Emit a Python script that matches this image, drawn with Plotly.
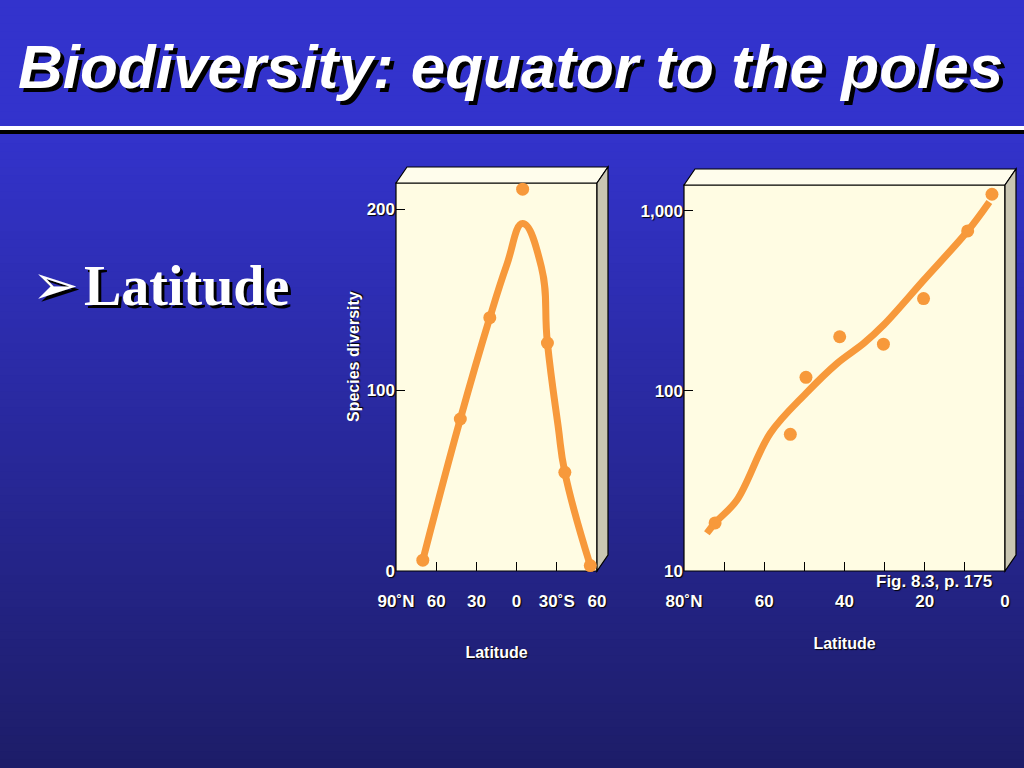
import plotly.graph_objects as go

# ---------------- data ----------------
# Left chart: x position along latitude axis (0 = 90N, 90 = equator, 150 = 60S)
left_tick_pos = [0, 30, 60, 90, 120, 150]
left_tick_text = ["90˚N", "60", "30", "0", "30˚S", "60"]
left_pts_x = [20, 48, 70, 94.5, 113, 126, 145]
left_pts_y = [6, 84, 140, 211, 126, 54.5, 3]
left_curve_x = [20, 48, 70, 82.6, 94.5, 108.5, 113, 121, 126, 145]
left_curve_y = [6, 84, 140, 169, 192, 168, 126, 80, 54.5, 3]
left_y_ticks = [0, 100, 200]

# Right chart: latitude 80N -> 0, log species diversity
right_tick_pos = [80, 70, 60, 50, 40, 30, 20, 10, 0]
right_tick_text = ["80˚N", "", "60", "", "40", "", "20", "", "0"]
right_pts_x = [72.25, 53.5, 49.6, 41.2, 30.3, 20.3, 9.3, 3.25]
right_pts_y = [18.5, 57.4, 119, 200, 182, 326, 774, 1238]
right_curve_x = [74.3, 72.25, 66.8, 58.5, 49.6, 41.8, 35.2, 30.2, 20.2, 9.3, 3.9]
right_curve_y = [16.2, 18.5, 24.8, 58.2, 97, 142.6, 184, 233, 414, 774, 1122]
right_y_ticks = [10, 100, 1000]
right_y_text = ["10", "100", "1,000"]

# ---------------- style ----------------
W, H = 1024, 768
ORANGE = "#F7993B"
CREAM = "#FFFCE3"
TOP = "#FFFDEC"
SIDE = "#C9C6B2"
FONT = "Liberation Sans"
SH = "1px 1px 1px #000000"


def X(px):
    return px / W


def Y(py):
    return 1 - py / H


L = dict(x0=396, x1=597, y0=183, y1=571)
R = dict(x0=684, x1=1005, y0=185, y1=571)
DX, DY = 11, 16

shapes = []
# background gradient
n = 96
top_c = (51, 51, 204)
bot_c = (29, 29, 104)
for i in range(n):
    y0 = i * H / n
    y1 = (i + 1) * H / n
    yc = (y0 + y1) / 2
    t = 0 if yc < 130 else (yc - 130) / (H - 130)
    c = tuple(round(top_c[k] + (bot_c[k] - top_c[k]) * t) for k in range(3))
    shapes.append(dict(type="rect", xref="paper", yref="paper", x0=0, x1=1,
                       y0=max(0, Y(y1) - 0.001), y1=min(1, Y(y0) + 0.001), layer="below",
                       fillcolor="rgb(%d,%d,%d)" % c, line=dict(width=0)))

# horizontal rules under title
shapes.append(dict(type="rect", xref="paper", yref="paper", x0=0, x1=1,
                   y0=Y(130), y1=Y(126), fillcolor="white", line=dict(width=0), layer="below"))
shapes.append(dict(type="rect", xref="paper", yref="paper", x0=0, x1=1,
                   y0=Y(134), y1=Y(130), fillcolor="black", line=dict(width=0), layer="below"))


def box(b):
    x0, x1, y0, y1 = b["x0"], b["x1"], b["y0"], b["y1"]
    ln = dict(color="black", width=1.2)
    # front face
    shapes.append(dict(type="rect", xref="paper", yref="paper", x0=X(x0), x1=X(x1),
                       y0=Y(y1), y1=Y(y0), fillcolor=CREAM, line=ln, layer="below"))
    # top face
    p = "M %f %f L %f %f L %f %f L %f %f Z" % (X(x0), Y(y0), X(x0 + DX), Y(y0 - DY),
                                               X(x1 + DX), Y(y0 - DY), X(x1), Y(y0))
    shapes.append(dict(type="path", xref="paper", yref="paper", path=p,
                       fillcolor=TOP, line=ln, layer="below"))
    # side face
    p = "M %f %f L %f %f L %f %f L %f %f Z" % (X(x1), Y(y0), X(x1 + DX), Y(y0 - DY),
                                               X(x1 + DX), Y(y1 - DY), X(x1), Y(y1))
    shapes.append(dict(type="path", xref="paper", yref="paper", path=p,
                       fillcolor=SIDE, line=ln, layer="below"))


box(L)
box(R)

fig = go.Figure()
fig.add_trace(go.Scatter(x=left_curve_x, y=left_curve_y, mode="lines",
                         line=dict(color=ORANGE, width=7, shape="spline", smoothing=1.3),
                         xaxis="x", yaxis="y", showlegend=False, hoverinfo="skip"))
fig.add_trace(go.Scatter(x=left_pts_x, y=left_pts_y, mode="markers",
                         marker=dict(color=ORANGE, size=13),
                         xaxis="x", yaxis="y", showlegend=False, cliponaxis=False))
fig.add_trace(go.Scatter(x=right_curve_x, y=right_curve_y, mode="lines",
                         line=dict(color=ORANGE, width=7, shape="spline", smoothing=1.0),
                         xaxis="x2", yaxis="y2", showlegend=False, hoverinfo="skip"))
fig.add_trace(go.Scatter(x=right_pts_x, y=right_pts_y, mode="markers",
                         marker=dict(color=ORANGE, size=13),
                         xaxis="x2", yaxis="y2", showlegend=False, cliponaxis=False))

tickfont = dict(family=FONT, size=17, color="white", weight=700, shadow=SH)
titlefont = dict(family=FONT, size=16, color="white", weight=700, shadow=SH)
axcommon = dict(showgrid=False, zeroline=False, showline=False, ticks="inside",
                ticklen=9, tickcolor="black", tickwidth=1.2, tickfont=tickfont,
                automargin=False)

fig.update_layout(
    width=W, height=H, margin=dict(l=0, r=0, t=0, b=0, pad=0, autoexpand=False),
    paper_bgcolor="rgb(40,40,150)", plot_bgcolor="rgba(0,0,0,0)",
    shapes=shapes,
    xaxis=dict(domain=[X(L["x0"]), X(L["x1"])], range=[0, 150], anchor="y",
               tickmode="array", tickvals=left_tick_pos, ticktext=left_tick_text,
               ticklabelstandoff=18,
               title=dict(text="Latitude", font=titlefont, standoff=36), **axcommon),
    yaxis=dict(domain=[Y(L["y1"]), Y(L["y0"])], range=[0, 214.4], anchor="x",
               tickmode="array", tickvals=left_y_ticks, **axcommon),
    xaxis2=dict(domain=[X(R["x0"]), X(R["x1"])], range=[80, 0], anchor="y2",
                tickmode="array", tickvals=right_tick_pos, ticktext=right_tick_text,
                ticklabelstandoff=18,
                title=dict(text="Latitude", font=titlefont, standoff=27), **axcommon),
    yaxis2=dict(domain=[Y(R["y1"]), Y(R["y0"])], type="log", range=[1, 3.144], anchor="x2",
                tickmode="array", tickvals=right_y_ticks, ticktext=right_y_text, **axcommon),
    annotations=[
        dict(text="Biodiversity: equator to the poles", xref="paper", yref="paper",
             x=X(510), y=Y(66), xanchor="center", yanchor="middle", showarrow=False,
             font=dict(family=FONT, size=62, color="white", weight=700, style="italic",
                       shadow="4px 4px 0px #000000")),
        dict(text="➢", xref="paper", yref="paper", x=X(30), y=Y(284), xanchor="left",
             yanchor="middle", showarrow=False,
             font=dict(family="DejaVu Sans", size=56, color="white",
                       shadow="3px 3px 0px #000000")),
        dict(text="Latitude", xref="paper", yref="paper", x=X(82), y=Y(286), xanchor="left",
             yanchor="middle", showarrow=False,
             font=dict(family="Liberation Serif", size=56, color="white", weight=700,
                       shadow="3px 3px 0px #000000")),
        dict(text="Species diversity", xref="paper", yref="paper", x=X(353), y=Y(357),
             xanchor="center", yanchor="middle", textangle=-90, showarrow=False,
             font=titlefont),
        dict(text="Fig. 8.3, p. 175", xref="paper", yref="paper", x=X(994), y=Y(581),
             xanchor="right", yanchor="middle", showarrow=False,
             font=dict(family=FONT, size=17, color="white", weight=700, shadow=SH)),
    ],
)

fig.write_html("out.html", config={"displayModeBar": False},
               post_script="document.body.style.margin='0px';")
